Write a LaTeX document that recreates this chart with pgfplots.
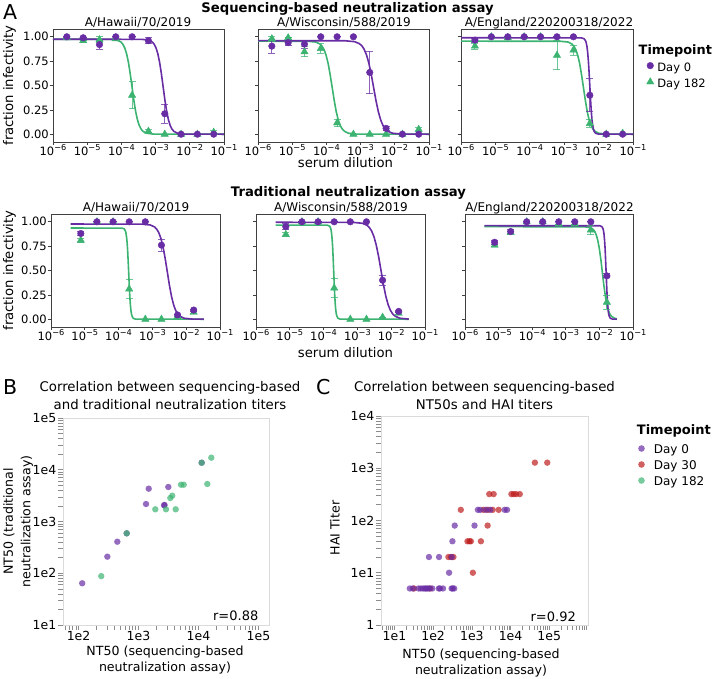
\documentclass[border=0pt]{standalone}
\usepackage{pgfplots}
\pgfplotsset{compat=1.18}
\usepackage{fontspec}
\setmainfont{DejaVu Sans}
\definecolor{pur}{RGB}{104,44,164}
\definecolor{grn}{RGB}{60,179,113}
\definecolor{redc}{RGB}{190,28,28}
\newcommand{\fs}[1]{\fontsize{#1}{#1}\selectfont}
\newcommand{\pw}[1]{10\raisebox{0.45em}{\fs{8.2}−#1}}
\pgfplotsset{
  Aax/.style={scale only axis, anchor=north west, height=113pt,
    xmin=-6, xmax=-1, ymin=-0.08, ymax=1.08,
    xtick={-6,-5,-4,-3,-2,-1},
    xticklabels={\pw{6},\pw{5},\pw{4},\pw{3},\pw{2},\pw{1}},
    ytick={0,0.25,0.5,0.75,1},
    yticklabels={0.00,0.25,0.50,0.75,1.00},
    tick align=outside, tick pos=left, major tick length=3pt,
    axis line style={black!75, line width=0.7pt},
    tick style={black!75, line width=0.7pt},
    ticklabel style={font=\fs{11.5}, inner sep=1pt},
    xticklabel style={yshift=2pt},
  },
  Anolab/.style={yticklabels={}},
  cur/.style={no marks, line width=1.6pt},
  pts/.style={only marks, mark size=3.3pt,
    error bars/y dir=both, error bars/y explicit,
    error bars/error bar style={line width=0.9pt, opacity=0.75},
    error bars/error mark options={rotate=90, mark size=3.5pt, line width=0.9pt, opacity=0.75}},
}
\begin{document}
\begin{tikzpicture}
\useasboundingbox (0pt,0pt) rectangle (713pt,-679pt);

% ---------- Panel A, top row: sequencing-based ----------
\begin{axis}[Aax, at={(53pt,-29pt)}, width=171pt]
\addplot[cur, grn] table {
-6 0.975
-4.328 0.974
-4.116 0.965
-4.009 0.945
-3.956 0.923
-3.903 0.886
-3.850 0.828
-3.796 0.741
-3.743 0.624
-3.690 0.488
-3.637 0.351
-3.584 0.234
-3.530 0.147
-3.477 0.089
-3.424 0.052
-3.371 0.030
-3.264 0.010
-3.052 0.001
-1 0
};
\addplot[cur, pur] table {
-6 0.975
-3.405 0.974
-3.197 0.965
-3.093 0.945
-3.040 0.923
-2.988 0.886
-2.936 0.828
-2.884 0.741
-2.832 0.624
-2.780 0.488
-2.728 0.351
-2.676 0.234
-2.624 0.147
-2.572 0.089
-2.520 0.052
-2.468 0.030
-2.363 0.010
-2.155 0.001
-1 0
};
\addplot[grn, mark=triangle*, pts, mark size=4.2pt] table[y error index=2] {
-5.595 0.99 0
-5.118 0.96 0
-4.641 0.97 0.03
-4.164 0.98 0
-3.687 0.40 0.14
-3.210 0.03 0.015
-2.732 0.00 0
-2.255 0.00 0
-1.778 0.00 0
-1.301 0.02 0.02
};
\addplot[pur, mark=*, pts] table[y error index=2] {
-5.595 1.00 0
-5.118 0.99 0
-4.641 0.92 0.045
-4.164 1.00 0
-3.687 1.00 0
-3.210 0.96 0.03
-2.732 0.21 0.10
-2.255 0.00 0
-1.778 0.00 0
-1.301 0.00 0
};
\end{axis}

\begin{axis}[Aax, Anolab, at={(258pt,-29pt)}, width=171pt]
\addplot[cur, grn] table {
-6 0.955
-4.544 0.954
-4.306 0.946
-4.187 0.925
-4.128 0.904
-4.068 0.868
-4.009 0.811
-3.949 0.726
-3.890 0.611
-3.830 0.478
-3.770 0.344
-3.711 0.229
-3.651 0.144
-3.592 0.087
-3.532 0.051
-3.473 0.030
-3.354 0.010
-3.116 0.001
-1 0
};
\addplot[cur, pur] table {
-6 0.96
-3.453 0.959
-3.176 0.950
-3.037 0.930
-2.967 0.909
-2.898 0.873
-2.828 0.815
-2.759 0.730
-2.689 0.614
-2.620 0.480
-2.551 0.346
-2.481 0.231
-2.412 0.145
-2.342 0.087
-2.273 0.051
-2.203 0.030
-2.064 0.010
-1.787 0.001
-1 0
};
\addplot[grn, mark=triangle*, pts, mark size=4.2pt] table[y error index=2] {
-5.595 0.98 0.025
-5.118 0.99 0
-4.641 0.846 0.05
-4.164 0.88 0.05
-3.687 0.116 0.04
-3.210 0.00 0
-2.732 0.00 0
-2.255 0.00 0
-1.778 0.00 0
-1.301 0.05 0.02
};
\addplot[pur, mark=*, pts] table[y error index=2] {
-5.595 0.904 0.07
-5.118 0.94 0.03
-4.641 0.925 0.04
-4.164 1.00 0
-3.687 1.00 0
-3.210 1.00 0
-2.732 0.634 0.22
-2.255 0.06 0.02
-1.778 0.00 0
-1.301 0.00 0
};
\end{axis}

\begin{axis}[Aax, Anolab, at={(461pt,-29pt)}, width=172pt,
  legend image code/.code={\draw[#1] plot coordinates {(0pt,2.2pt)};},
  legend cell align=left,
  legend style={at={(1.078,0.7115)}, anchor=north west, draw=none, fill=none,
    inner sep=0pt, font=\fs{11.5}, row sep=3.9pt, column sep=2.5pt,
    nodes={inner sep=1pt}}]
\addplot[cur, grn, forget plot] table {
-6 0.955
-3.107 0.954
-2.884 0.946
-2.773 0.925
-2.718 0.904
-2.662 0.868
-2.607 0.811
-2.551 0.726
-2.496 0.611
-2.440 0.478
-2.384 0.344
-2.329 0.229
-2.273 0.144
-2.218 0.087
-2.162 0.051
-2.107 0.030
-1.996 0.010
-1.773 0.001
-1 0
};
\addplot[cur, pur, forget plot] table {
-6 0.99
-2.505 0.989
-2.422 0.980
-2.380 0.959
-2.359 0.938
-2.338 0.900
-2.318 0.841
-2.297 0.752
-2.276 0.634
-2.255 0.495
-2.234 0.356
-2.213 0.238
-2.193 0.149
-2.172 0.090
-2.151 0.052
-2.130 0.030
-2.088 0.010
-2.005 0.001
-1 0
};
\addplot[grn, mark=triangle*, pts, mark size=4.2pt, forget plot] table[y error index=2] {
-5.595 0.904 0.03
-5.118 1.00 0
-4.641 0.99 0
-4.164 1.00 0
-3.687 1.00 0
-3.210 0.81 0.15
-2.732 0.863 0.05
-2.255 0.11 0.04
-1.778 0.00 0
-1.301 0.01 0
};
\addplot[pur, mark=*, pts, forget plot] table[y error index=2] {
-5.595 0.966 0.02
-5.118 1.00 0
-4.641 1.00 0
-4.164 1.00 0
-3.687 1.00 0
-3.210 1.00 0
-2.732 1.00 0
-2.255 0.40 0.17
-1.778 0.00 0
-1.301 0.00 0
};
\addlegendimage{only marks, mark=*, pur, mark size=3.3pt}
\addlegendentry{Day 0}
\addlegendimage{only marks, mark=triangle*, grn, mark size=4.2pt}
\addlegendentry{Day 182}
\end{axis}

% ---------- Panel A, bottom row: traditional ----------
\begin{axis}[Aax, at={(51pt,-214pt)}, width=169pt]
\addplot[cur, grn] table {
-5.42 0.936
-3.900 0.935
-3.833 0.927
-3.800 0.907
-3.783 0.886
-3.767 0.851
-3.750 0.795
-3.733 0.711
-3.717 0.599
-3.700 0.468
-3.683 0.337
-3.667 0.225
-3.650 0.141
-3.633 0.085
-3.617 0.050
-3.600 0.029
-3.567 0.009
-3.500 0.001
-1.48 0
};
\addplot[cur, pur] table {
-5.42 0.977
-3.310 0.976
-3.060 0.967
-2.935 0.947
-2.873 0.925
-2.810 0.888
-2.748 0.829
-2.685 0.742
-2.623 0.625
-2.560 0.489
-2.498 0.352
-2.435 0.235
-2.373 0.148
-2.310 0.089
-2.248 0.052
-2.185 0.030
-2.060 0.010
-1.810 0.001
-1.48 0
};
\addplot[grn, mark=triangle*, pts, mark size=4.2pt] table[y error index=2] {
-5.118 0.81 0.02
-4.641 1.00 0
-4.164 1.00 0
-3.687 0.31 0.10
-3.210 0.00 0
-2.732 0.00 0
-2.255 0.027 0
-1.778 0.07 0.01
};
\addplot[pur, mark=*, pts] table[y error index=2] {
-5.118 0.88 0.025
-4.641 1.00 0
-4.164 1.00 0
-3.687 1.00 0
-3.210 1.00 0
-2.732 0.76 0.06
-2.255 0.044 0
-1.778 0.094 0.01
};
\end{axis}

\begin{axis}[Aax, Anolab, at={(256pt,-214pt)}, width=169pt]
\addplot[cur, grn] table {
-5.42 0.966
-3.888 0.965
-3.825 0.956
-3.794 0.936
-3.778 0.915
-3.763 0.878
-3.747 0.820
-3.731 0.734
-3.716 0.618
-3.700 0.483
-3.684 0.348
-3.669 0.232
-3.653 0.146
-3.638 0.088
-3.622 0.051
-3.606 0.030
-3.575 0.010
-3.513 0.001
-1.48 0
};
\addplot[cur, pur] table {
-5.42 0.995
-3.133 0.994
-2.856 0.985
-2.717 0.964
-2.647 0.942
-2.578 0.905
-2.508 0.845
-2.439 0.756
-2.369 0.637
-2.300 0.498
-2.231 0.358
-2.161 0.239
-2.092 0.150
-2.022 0.090
-1.953 0.053
-1.883 0.031
-1.744 0.010
-1.48 0.001
};
\addplot[grn, mark=triangle*, pts, mark size=4.2pt] table[y error index=2] {
-5.118 0.87 0.02
-4.641 1.00 0
-4.164 1.00 0
-3.687 0.32 0.10
-3.210 0.00 0
-2.732 0.00 0
-2.255 0.02 0
-1.778 0.06 0.01
};
\addplot[pur, mark=*, pts] table[y error index=2] {
-5.118 0.95 0.03
-4.641 1.00 0
-4.164 1.00 0
-3.687 1.00 0
-3.210 1.00 0
-2.732 1.00 0
-2.255 0.40 0.05
-1.778 0.08 0.01
};
\end{axis}

\begin{axis}[Aax, Anolab, at={(465pt,-214pt)}, width=168pt]
\addplot[cur, grn] table {
-5.42 0.95
-2.455 0.949
-2.274 0.941
-2.183 0.921
-2.137 0.900
-2.092 0.864
-2.046 0.807
-2.001 0.722
-1.955 0.608
-1.910 0.475
-1.865 0.342
-1.819 0.228
-1.774 0.143
-1.728 0.086
-1.683 0.050
-1.637 0.029
-1.546 0.009
-1.48 0.004
};
\addplot[cur, pur] table {
-5.42 0.96
-1.988 0.959
-1.925 0.950
-1.894 0.930
-1.878 0.909
-1.863 0.873
-1.847 0.815
-1.831 0.730
-1.816 0.614
-1.800 0.480
-1.784 0.346
-1.769 0.231
-1.753 0.145
-1.738 0.087
-1.722 0.051
-1.706 0.030
-1.675 0.010
-1.613 0.001
-1.48 0
};
\addplot[grn, mark=triangle*, pts, mark size=4.2pt] table[y error index=2] {
-5.118 0.76 0.01
-4.641 0.89 0.01
-4.164 1.00 0
-3.687 1.00 0
-3.210 0.977 0
-2.732 0.977 0
-2.255 0.916 0.05
-1.778 0.174 0.07
};
\addplot[pur, mark=*, pts] table[y error index=2] {
-5.118 0.79 0.02
-4.641 0.90 0.02
-4.164 1.00 0
-3.687 1.00 0
-3.210 1.00 0
-2.732 1.00 0
-2.255 1.00 0
-1.778 0.445 0.02
};
\end{axis}

% ---------- Panel B ----------
\begin{axis}[scale only axis, anchor=north west, at={(63pt,-418pt)}, width=206pt, height=207pt,
  xmode=log, ymode=log,
  xmin=55, xmax=150000, ymin=10, ymax=100000,
  axis line style={draw=black!14, line width=0.8pt},
  tick align=outside, tick pos=left,
  major tick length=5pt, minor tick length=5pt,
  tick style={black!45, line width=0.6pt},
  ticklabel style={font=\fs{12.5}, inner sep=1.5pt},
  xtick={100,1000,10000,100000}, xticklabels={1e2,1e3,1e4,1e5},
  ytick={10,100,1000,10000,100000}, yticklabels={1e1,1e2,1e3,1e4,1e5},
  minor xtick={60,70,80,90,200,300,400,500,600,700,800,900,2000,3000,4000,5000,6000,7000,8000,9000,20000,30000,40000,50000,60000,70000,80000,90000},
  minor ytick={20,30,40,50,60,70,80,90,200,300,400,500,600,700,800,900,2000,3000,4000,5000,6000,7000,8000,9000,20000,30000,40000,50000,60000,70000,80000,90000}]
\addplot[only marks, mark=*, mark size=3.2pt, mark options={draw opacity=0, fill opacity=0.7, fill=pur}] coordinates {
(115,64) (302,209) (443,407) (635,591) (1334,2178) (1479,4305)
(2663,2054) (2720,2090) (3141,4645) (11310,13680)
};
\addplot[only marks, mark=*, mark size=3.2pt, mark options={draw opacity=0, fill opacity=0.7, fill=grn}] coordinates {
(239,88) (635,591) (1905,1721) (2871,1721) (4168,1721) (3388,2846)
(3656,3155) (5117,5140) (5670,5140) (14030,5310) (11310,13680) (16370,17100)
};
\end{axis}

% ---------- Panel C ----------
\begin{axis}[scale only axis, anchor=north west, at={(381pt,-416pt)}, width=207pt, height=209pt,
  xmode=log, ymode=log,
  xmin=4.5, xmax=1000000, ymin=1, ymax=10000,
  axis line style={draw=black!14, line width=0.8pt},
  tick align=outside, tick pos=left,
  major tick length=5pt, minor tick length=5pt,
  tick style={black!45, line width=0.6pt},
  ticklabel style={font=\fs{12.5}, inner sep=1.5pt},
  xtick={10,100,1000,10000,100000}, xticklabels={1e1,1e2,1e3,1e4,1e5},
  ytick={1,10,100,1000,10000}, yticklabels={1,1e1,1e2,1e3,1e4},
  minor xtick={5,6,7,8,9,20,30,40,50,60,70,80,90,200,300,400,500,600,700,800,900,2000,3000,4000,5000,6000,7000,8000,9000,20000,30000,40000,50000,60000,70000,80000,90000,200000,300000,400000,500000,600000,700000,800000,900000},
  minor ytick={2,3,4,5,6,7,8,9,20,30,40,50,60,70,80,90,200,300,400,500,600,700,800,900,2000,3000,4000,5000,6000,7000,8000,9000},
  legend image code/.code={\draw[#1] plot coordinates {(0pt,1.2pt)};},
  legend cell align=left,
  legend style={at={(1.2415,0.8694)}, anchor=north west, draw=none, fill=none,
    inner sep=0pt, font=\fs{12}, row sep=3.6pt, column sep=8.1pt,
    nodes={inner sep=1pt}}]
\addplot[only marks, mark=*, mark size=3.2pt, mark options={draw opacity=0, fill opacity=0.7, fill=redc}, forget plot] coordinates {
(32,5) (84,5) (1062,10) (248,20) (290,20) (334,20)
(771,40) (868,40) (942,40) (1713,40) (2553,80)
(518,160) (2009,160) (2605,160) (3444,160) (4930,160)
(2818,320) (3656,320) (10520,320) (12080,320) (13890,320) (17300,320)
(42460,1280) (88700,1280)
};
\addplot[only marks, mark=*, mark size=3.2pt, mark options={draw opacity=0, fill opacity=0.7, fill=pur}, forget plot] coordinates {
(25,5) (30,5) (42,5) (48,5) (55,5) (61,5) (66,5) (72,5) (80,5) (95,5)
(140,5) (150,5) (180,5) (300,5) (320,5) (350,5)
(258,10) (78,20) (142,20) (302,20) (315,40) (361,80) (1172,80)
(1432,160) (1644,160) (2310,160) (2993,160) (7050,160) (8110,160)
};
\addlegendimage{only marks, mark=*, mark size=3.3pt, mark options={draw opacity=0, fill opacity=0.7, fill=pur}}
\addlegendentry{Day 0}
\addlegendimage{only marks, mark=*, mark size=3.3pt, mark options={draw opacity=0, fill opacity=0.7, fill=redc}}
\addlegendentry{Day 30}
\addlegendimage{only marks, mark=*, mark size=3.3pt, mark options={draw opacity=0, fill opacity=0.7, fill=grn}}
\addlegendentry{Day 182}
\end{axis}

% ---------- Texts ----------
\node[anchor=base west, inner sep=0pt] at (3pt,-20pt) {\fs{20.5}A};
\node[anchor=base west, inner sep=0pt] at (3pt,-395pt) {\fs{20.5}B};
\node[anchor=base west, inner sep=0pt] at (316pt,-395pt) {\fs{20.5}C};

\node[anchor=base, inner sep=0pt] at (347.5pt,-13pt) {\fs{13.2}\bfseries Sequencing-based neutralization assay};
\node[anchor=base, inner sep=0pt] at (348.5pt,-196.5pt) {\fs{13.2}\bfseries Traditional neutralization assay};

\node[anchor=base, inner sep=0pt] at (138pt,-26.5pt) {\fs{12}A/Hawaii/70/2019};
\node[anchor=base, inner sep=0pt] at (344pt,-26.5pt) {\fs{12}A/Wisconsin/588/2019};
\node[anchor=base, inner sep=0pt] at (549pt,-26.5pt) {\fs{12}A/England/220200318/2022};
\node[anchor=base, inner sep=0pt] at (136pt,-212pt) {\fs{12}A/Hawaii/70/2019};
\node[anchor=base, inner sep=0pt] at (341pt,-212pt) {\fs{12}A/Wisconsin/588/2019};
\node[anchor=base, inner sep=0pt] at (549.5pt,-212pt) {\fs{12}A/England/220200318/2022};

\node[anchor=base, inner sep=0pt] at (345.5pt,-167.5pt) {\fs{13.2}serum dilution};
\node[anchor=base, inner sep=0pt] at (345.5pt,-358pt) {\fs{13.2}serum dilution};
\node[anchor=base, rotate=90, inner sep=0pt] at (13pt,-85.5pt) {\fs{13.2}fraction infectivity};
\node[anchor=base, rotate=90, inner sep=0pt] at (13pt,-270.5pt) {\fs{13.2}fraction infectivity};

\node[anchor=base west, inner sep=0pt] at (638.5pt,-54.5pt) {\fs{12.9}\bfseries Timepoint};
\node[anchor=base west, inner sep=0pt] at (636.7pt,-434pt) {\fs{13}\bfseries Timepoint};

\node[anchor=base, inner sep=0pt] at (170pt,-391.5pt) {\fs{13.3}Correlation between sequencing-based};
\node[anchor=base, inner sep=0pt] at (170pt,-409.5pt) {\fs{13.3}and traditional neutralization titers};
\node[anchor=base, inner sep=0pt] at (484.5pt,-391.5pt) {\fs{13.3}Correlation between sequencing-based};
\node[anchor=base, inner sep=0pt] at (484.5pt,-409.5pt) {\fs{13.3}NT50s and HAI titers};

\node[anchor=base, inner sep=0pt] at (165pt,-655pt) {\fs{12.6}NT50 (sequencing-based};
\node[anchor=base, inner sep=0pt] at (165pt,-671pt) {\fs{12.6}neutralization assay)};
\node[anchor=base, inner sep=0pt] at (481pt,-658pt) {\fs{12.6}NT50 (sequencing-based};
\node[anchor=base, inner sep=0pt] at (481pt,-674pt) {\fs{12.6}neutralization assay)};

\node[anchor=base, rotate=90, inner sep=0pt] at (12.9pt,-521.5pt) {\fs{12.6}NT50 (traditional};
\node[anchor=base, rotate=90, inner sep=0pt] at (30.3pt,-521.5pt) {\fs{12.6}neutralization assay)};
\node[anchor=base, rotate=90, inner sep=0pt] at (339.5pt,-528pt) {\fs{12.6}HAI Titer};

\node[anchor=base east, inner sep=0pt] at (258.5pt,-620.5pt) {\fs{13}r=0.88};
\node[anchor=base east, inner sep=0pt] at (576pt,-621pt) {\fs{13}r=0.92};
\end{tikzpicture}
\end{document}
